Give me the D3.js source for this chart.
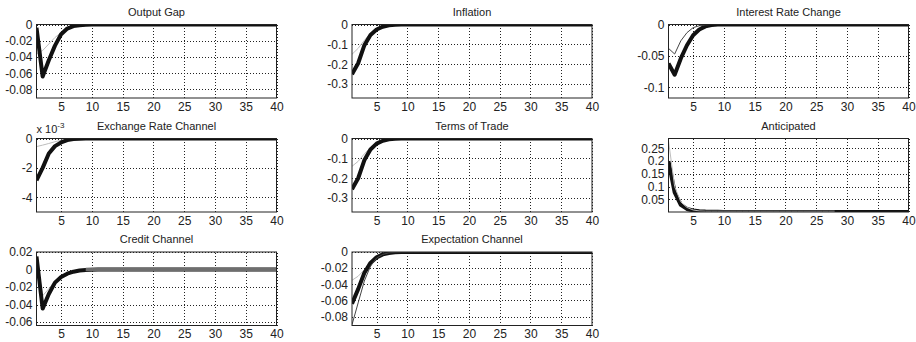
<!DOCTYPE html>
<html>
<head>
<meta charset="utf-8">
<script src="https://cdn.jsdelivr.net/npm/d3@7"></script>
<style>
  body { margin: 0; background: #fff; }
  svg { display: block; font-family: "Liberation Sans", Arial, sans-serif; }
  .grid line { stroke: #222; stroke-dasharray: 1,2; stroke-width: 1; shape-rendering: crispEdges; }
  .grid path { display: none; }
  .lbl path { display: none; }
  .lbl text { fill: #222; font-size: 12px; }
</style>
</head>
<body>
<script>
// periods of the impulse responses
const periods = d3.range(1, 41);
const xTicks = [5, 10, 15, 20, 25, 30, 35, 40];

// panel titles
const titles = ['Output Gap', 'Inflation', 'Interest Rate Change',
  'Exchange Rate Channel', 'Terms of Trade', 'Anticipated',
  'Credit Channel', 'Expectation Channel'];

// y tick values per panel
const ogTicks = [0, -0.02, -0.04, -0.06, -0.08];
const infTicks = [0, -0.1, -0.2, -0.3];
const irTicks = [0, -0.05, -0.1];
const erTicks = [0, -0.002, -0.004];
const totTicks = [0, -0.1, -0.2, -0.3];
const antTicks = [0.05, 0.1, 0.15, 0.2, 0.25];
const crTicks = [0.02, 0, -0.02, -0.04, -0.06];
const exTicks = [0, -0.02, -0.04, -0.06, -0.08];

// series values
const ogThick = [-0.004,-0.064,-0.044,-0.026,-0.012,-0.005,-0.002,-0.0008,-0.0003,0, 0,0,0,0,0,0,0,0,0,0, 0,0,0,0,0,0,0,0,0,0, 0,0,0,0,0,0,0,0,0,0];
const ogGrey  = [-0.036,-0.032,-0.024,-0.016,-0.01,-0.005,-0.002,-0.001,0,0, 0,0,0,0,0,0,0,0,0,0, 0,0,0,0,0,0,0,0,0,0, 0,0,0,0,0,0,0,0,0,0];

const infThick = [-0.25,-0.195,-0.105,-0.053,-0.025,-0.011,-0.004,-0.0015,-0.0005,0, 0,0,0,0,0,0,0,0,0,0, 0,0,0,0,0,0,0,0,0,0, 0,0,0,0,0,0,0,0,0,0];
const infGrey  = [-0.15,-0.12,-0.08,-0.045,-0.022,-0.01,-0.004,-0.001,0,0, 0,0,0,0,0,0,0,0,0,0, 0,0,0,0,0,0,0,0,0,0, 0,0,0,0,0,0,0,0,0,0];

const irThick = [-0.062,-0.08,-0.054,-0.033,-0.017,-0.008,-0.003,-0.001,0,0, 0,0,0,0,0,0,0,0,0,0, 0,0,0,0,0,0,0,0,0,0, 0,0,0,0,0,0,0,0,0,0];
const irThin  = [-0.038,-0.047,-0.026,-0.013,-0.005,-0.002,-0.0006,0,0,0, 0,0,0,0,0,0,0,0,0,0, 0,0,0,0,0,0,0,0,0,0, 0,0,0,0,0,0,0,0,0,0];

const erThick = [-0.00284,-0.002,-0.00102,-0.00052,-0.00027,-0.00011,-0.00004,-0.00001,0,0, 0,0,0,0,0,0,0,0,0,0, 0,0,0,0,0,0,0,0,0,0, 0,0,0,0,0,0,0,0,0,0];
const erGrey  = [-0.00055,-0.00045,-0.00034,-0.00022,-0.00012,-0.00005,-0.00002,0,0,0, 0,0,0,0,0,0,0,0,0,0, 0,0,0,0,0,0,0,0,0,0, 0,0,0,0,0,0,0,0,0,0];

const totThick = [-0.255,-0.2,-0.11,-0.055,-0.026,-0.011,-0.004,-0.0015,-0.0005,0, 0,0,0,0,0,0,0,0,0,0, 0,0,0,0,0,0,0,0,0,0, 0,0,0,0,0,0,0,0,0,0];
const totGrey  = [-0.14,-0.115,-0.078,-0.045,-0.022,-0.01,-0.004,-0.001,0,0, 0,0,0,0,0,0,0,0,0,0, 0,0,0,0,0,0,0,0,0,0, 0,0,0,0,0,0,0,0,0,0];

const antThick = [0.2,0.077,0.028,0.012,0.006,0.003,0.0015,0.001,0.0005,0, 0,0,0,0,0,0,0,0,0,0, 0,0,0,0,0,0,0,0,0,0, 0,0,0,0,0,0,0,0,0,0];
const antGrey  = [0.28,0.1,0.04,0.018,0.008,0.004,0.003,0.003,0.003,0.003, 0.003,0.003,0.003,0.003,0.003,0.003,0.003,0.003,0.003,0.003, 0.003,0.003,0.003,0.003,0.003,0.003,0.003,0.003,null,null, null,null,null,null,null,null,null,null,null,null];

const crThick = [0.015,-0.0447,-0.028,-0.015,-0.0085,-0.0048,-0.0025,-0.0012,-0.0006,-0.0002, 0,0,0,0,0,0,0,0,0,0, 0,0,0,0,0,0,0,0,0,0, 0,0,0,0,0,0,0,0,0,0];
const crGrey  = [0.012,-0.03,-0.022,-0.013,-0.007,-0.004,-0.002,-0.001,0,0, 0,0,0,0,0,0,0,0,0,0, 0,0,0,0,0,0,0,0,0,0, 0,0,0,0,0,0,0,0,0,0];
const crBand  = [null,null,null,null,null,null,null,null,0,0, 0,0,0,0,0,0,0,0,0,0, 0,0,0,0,0,0,0,0,0,0, 0,0,0,0,0,0,0,0,0,0];

const exThick = [-0.064,-0.046,-0.026,-0.0135,-0.0066,-0.003,-0.0012,-0.0004,0,0, 0,0,0,0,0,0,0,0,0,0, 0,0,0,0,0,0,0,0,0,0, 0,0,0,0,0,0,0,0,0,0];
const exThin  = [-0.09,-0.063,-0.036,-0.0176,-0.0074,-0.003,-0.001,-0.0003,0,0, 0,0,0,0,0,0,0,0,0,0, 0,0,0,0,0,0,0,0,0,0, 0,0,0,0,0,0,0,0,0,0];
const exGrey  = [-0.035,-0.03,-0.022,-0.014,-0.007,-0.003,-0.001,0,0,0, 0,0,0,0,0,0,0,0,0,0, 0,0,0,0,0,0,0,0,0,0, 0,0,0,0,0,0,0,0,0,0];

// layout
const width = 916, height = 342;
const colLeft = [36.5, 352, 668.5];
const rowTop = [24.5, 138.5, 252];
const plotW = 240, plotH = 73.5;

// line styles
const styles = {
  grey: { stroke: '#bdbdbd', width: 1 },
  band: { stroke: '#6e6e6e', width: 3.5 },
  thick: { stroke: '#111', width: 4 },
  thin: { stroke: '#444', width: 1 }
};

const panels = [
  { title: titles[0], col: 0, row: 0, domain: [-0.0905, 0], ticks: ogTicks,
    series: [['grey', ogGrey], ['thick', ogThick]] },
  { title: titles[1], col: 1, row: 0, domain: [-0.37, 0], ticks: infTicks,
    series: [['grey', infGrey], ['thick', infThick]] },
  { title: titles[2], col: 2, row: 0, domain: [-0.117, 0], ticks: irTicks,
    series: [['thick', irThick], ['thin', irThin]] },
  { title: titles[3], col: 0, row: 1, domain: [-0.005, 0], ticks: erTicks, scale: 1e-3,
    series: [['grey', erGrey], ['thick', erThick]] },
  { title: titles[4], col: 1, row: 1, domain: [-0.37, 0], ticks: totTicks,
    series: [['grey', totGrey], ['thick', totThick]] },
  { title: titles[5], col: 2, row: 1, domain: [0, 0.289], ticks: antTicks,
    series: [['thick', antThick], ['grey', antGrey]] },
  { title: titles[6], col: 0, row: 2, domain: [-0.064, 0.02], ticks: crTicks,
    series: [['grey', crGrey], ['thick', crThick], ['band', crBand]] },
  { title: titles[7], col: 1, row: 2, domain: [-0.091, 0], ticks: exTicks,
    series: [['grey', exGrey], ['thick', exThick], ['thin', exThin]] }
];

const svg = d3.select('body').append('svg')
  .attr('width', width)
  .attr('height', height);

function drawPanel(p, idx) {
  const g = svg.append('g')
    .attr('transform', `translate(${colLeft[p.col]},${rowTop[p.row]})`);

  const x = d3.scaleLinear().domain([1, 40]).range([0, plotW]);
  const y = d3.scaleLinear().domain(p.domain).range([plotH, 0]);

  // lines are clipped to the axes box
  g.append('clipPath').attr('id', 'clip' + idx)
    .append('rect').attr('width', plotW).attr('height', plotH);

  // dotted grid
  g.append('g').attr('class', 'grid')
    .attr('transform', `translate(0,${plotH})`)
    .call(d3.axisBottom(x).tickValues(xTicks).tickSize(-plotH).tickFormat(''));
  g.append('g').attr('class', 'grid')
    .call(d3.axisLeft(y).tickValues(p.ticks).tickSize(-plotW).tickFormat(''));

  // tick labels
  g.append('g').attr('class', 'lbl')
    .attr('transform', `translate(0,${plotH})`)
    .call(d3.axisBottom(x).tickValues(xTicks).tickSize(0).tickPadding(4));
  const fmt = p.scale ? (v => String(Math.round(v / p.scale))) : (v => String(v));
  g.append('g').attr('class', 'lbl')
    .call(d3.axisLeft(y).tickValues(p.ticks).tickSize(0).tickPadding(4).tickFormat(fmt));

  // lines
  const line = d3.line()
    .defined(d => d[1] != null)
    .x(d => x(d[0]))
    .y(d => y(d[1]));
  const lines = g.append('g').attr('clip-path', `url(#clip${idx})`);
  p.series.forEach(([kind, vals]) => {
    lines.append('path')
      .datum(periods.map((t, i) => [t, vals[i]]))
      .attr('d', line)
      .attr('fill', 'none')
      .attr('stroke', styles[kind].stroke)
      .attr('stroke-width', styles[kind].width)
      .attr('stroke-linejoin', 'round');
  });

  // box
  g.append('rect')
    .attr('width', plotW).attr('height', plotH)
    .attr('fill', 'none').attr('stroke', '#222').attr('stroke-width', 1);

  // title
  g.append('text')
    .attr('x', plotW / 2).attr('y', -9)
    .attr('text-anchor', 'middle')
    .attr('font-size', '11px')
    .attr('fill', '#222')
    .text(p.title);

  // exponent label
  if (p.scale) {
    const t = g.append('text')
      .attr('x', 0).attr('y', -5.5)
      .attr('font-size', '11px')
      .attr('fill', '#222')
      .text('x 10');
    t.append('tspan').attr('dy', -5).attr('font-size', '8px').text('-3');
  }
}

panels.forEach(drawPanel);
</script>
</body>
</html>
